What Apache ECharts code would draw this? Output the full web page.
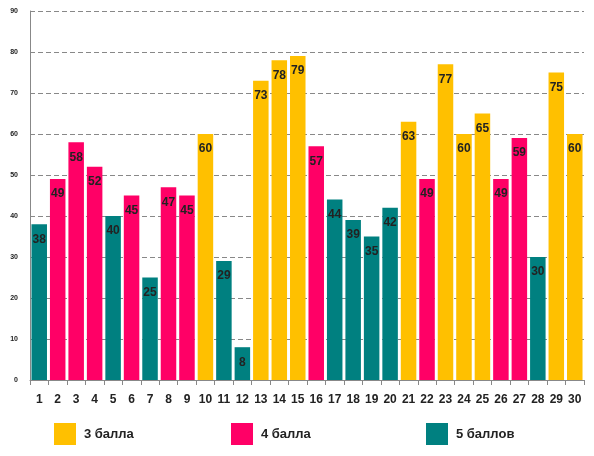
<!DOCTYPE html>
<html><head><meta charset="utf-8">
<script src="https://cdn.jsdelivr.net/npm/echarts@6/dist/echarts.min.js"></script>
<style>html,body{margin:0;padding:0;background:#fff}#c{width:594px;height:456px}</style>
</head><body><div id="c"></div>
<script>
var categories = ['1','2','3','4','5','6','7','8','9','10','11','12','13','14','15','16','17','18','19','20','21','22','23','24','25','26','27','28','29','30'];
var values = [38,49,58,52,40,45,25,47,45,60,29,8,73,78,79,57,44,39,35,42,63,49,77,60,65,49,59,30,75,60];
var grades = ['5','4','4','4','5','4','5','4','4','3','5','5','3','3','3','4','5','5','5','5','3','4','3','3','3','4','4','5','3','3'];
var seriesNames = ['3 балла','4 балла','5 баллов'];
var seriesKeys = ['3','4','5'];
var colors = ['#FFC000','#FF0066','#008080'];
var yTicks = [0,10,20,30,40,50,60,70,80,90];

var FONT = 'Liberation Sans';
var series = seriesKeys.map(function(k, i){
  return {
    name: seriesNames[i], type: 'bar', stack: 'all', barCategoryGap: '16%',
    itemStyle: {color: colors[i]},
    label: {show: true, position: 'insideTop', distance: 9, color: '#222', fontFamily: FONT, fontWeight: 'bold', fontSize: 12},
    data: values.map(function(v, j){ return grades[j] === k ? v : '-'; })
  };
});
var legendLeft = [54, 231, 426];
var legends = seriesNames.map(function(n, i){
  return {data: [n], left: legendLeft[i], top: 423, padding: 0, itemWidth: 22, itemHeight: 22, icon: 'rect',
    textStyle: {fontFamily: FONT, fontWeight: 'bold', fontSize: 13, color: '#222', padding: [0,0,0,3]}};
});
var chart = echarts.init(document.getElementById('c'));
chart.setOption({
  animation: false,
  grid: {left: 30, right: 10, top: 11, bottom: 76},
  legend: legends,
  xAxis: {type: 'category', data: categories,
    axisLine: {lineStyle: {color: '#888'}},
    axisTick: {show: true, length: 5, lineStyle: {color: '#888'}},
    axisLabel: {margin: 14, color: '#222', fontFamily: FONT, fontWeight: 'bold', fontSize: 12, interval: 0}},
  yAxis: {type: 'value', min: yTicks[0], max: yTicks[yTicks.length-1], interval: 10,
    axisLine: {show: true, lineStyle: {color: '#888'}},
    axisTick: {show: false},
    splitLine: {lineStyle: {color: '#888', type: [5,3]}},
    axisLabel: {margin: 12, color: '#222', fontFamily: FONT, fontWeight: 'bold', fontSize: 7}},
  series: series
});
</script></body></html>
